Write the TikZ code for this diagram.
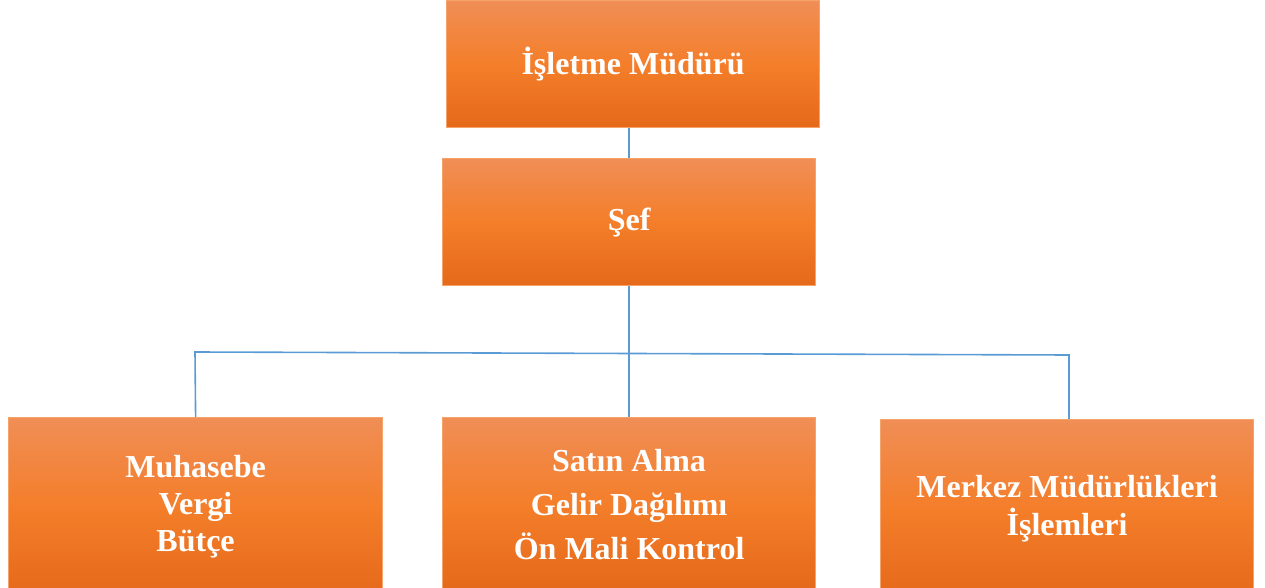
\documentclass[tikz,border=0pt]{standalone}
\usepackage{fontspec}
\setmainfont{Liberation Serif}
\definecolor{boxtop}{HTML}{F08E56}
\definecolor{boxmid}{HTML}{F47E2A}
\definecolor{boxbot}{HTML}{E5691A}
\definecolor{boxline}{HTML}{F4A36A}
\definecolor{wire}{HTML}{5B9BD5}
\tikzset{
  orgbox/.style={rectangle, draw=boxline, line width=0.6pt,
    top color=boxtop, bottom color=boxbot, middle color=boxmid,
    text=white, font=\bfseries\fontsize{16pt}{18.7pt}\selectfont,
    align=center, inner sep=0pt, anchor=north west},
  wireline/.style={draw=wire, line width=0.8pt}
}
\begin{document}
\begin{tikzpicture}[x=0.5pt,y=-0.5pt]
\useasboundingbox (0,0) rectangle (1265,588);
\clip (0,0) rectangle (1265,588);
\node[orgbox, minimum width=186.5pt, minimum height=63.5pt] (mgr) at (446,0) {İşletme Müdürü};
\node[orgbox, minimum width=186.5pt, minimum height=63.5pt] (sef) at (442,158) {Şef};
\node[orgbox, minimum width=187pt, minimum height=89pt] (left) at (8,417) {Muhasebe\\Vergi\\Bütçe};
\node[orgbox, minimum width=186.5pt, minimum height=86.5pt] (mid) at (442,417) {Satın Alma\\[3.3pt]Gelir Dağılımı\\[3.3pt]Ön Mali Kontrol};
\node[orgbox, minimum width=186.5pt, minimum height=89pt] (right) at (880,419) {Merkez Müdürlükleri\\İşlemleri};
\coordinate (lb) at (195,352);
\coordinate (rb) at (1069,355);
\coordinate (rt) at (1069,419);
\draw[wireline] (sef.north) -- (sef.north |- mgr.south);
\draw[wireline] (sef.south) -- (mid.north);
\draw[wireline] (left.north) -- (lb) -- (rb) -- (rt);
\end{tikzpicture}
\end{document}
